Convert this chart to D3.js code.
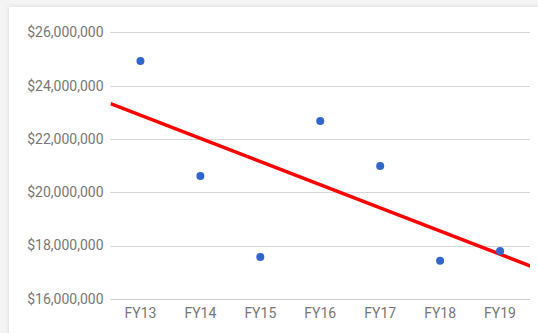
<!DOCTYPE html>
<html>
<head>
<meta charset="utf-8">
<script src="https://cdn.jsdelivr.net/npm/d3@7"></script>
<style>
  html, body { margin: 0; padding: 0; background: #f3f3f3; }
  svg { display: block; }
</style>
</head>
<body>
<svg id="chart" width="538" height="333"></svg>
<script>
// Annual totals by fiscal year
const years = ["FY13", "FY14", "FY15", "FY16", "FY17", "FY18", "FY19"];
const amounts = [24920000, 20610000, 17570000, 22670000, 20980000, 17430000, 17790000];
const yTicks = [16000000, 18000000, 20000000, 22000000, 24000000, 26000000];

const svg = d3.select("#chart");
const W = 538, H = 333;
const plot = { left: 110.5, right: 530, top: 32.3, bottom: 298.8 };

// card surface with a soft edge shadow
const defs = svg.append("defs");
const f = defs.append("filter").attr("id", "shadow").attr("x", "-5%").attr("y", "-5%").attr("width", "110%").attr("height", "110%");
f.append("feGaussianBlur").attr("in", "SourceAlpha").attr("stdDeviation", 2.5);
f.append("feOffset").attr("dx", 0).attr("dy", 0).attr("result", "b");
f.append("feComponentTransfer").append("feFuncA").attr("type", "linear").attr("slope", 0.12);
const m = f.append("feMerge");
m.append("feMergeNode");
m.append("feMergeNode").attr("in", "SourceGraphic");

svg.append("rect").attr("x", 0).attr("y", 0).attr("width", W).attr("height", H).attr("fill", "#f4f4f4");
svg.append("rect").attr("x", 9).attr("y", 7).attr("width", W + 20).attr("height", H + 20)
  .attr("fill", "#ffffff").attr("filter", "url(#shadow)");

const x = d3.scaleBand().domain(years).range([plot.left, plot.right]);
const y = d3.scaleLinear().domain([16000000, 26000000]).range([plot.bottom, plot.top]);

const fmt = d3.format("$,.0f");

// horizontal gridlines
svg.append("g").selectAll("line").data(yTicks).join("line")
  .attr("x1", plot.left).attr("x2", plot.right)
  .attr("y1", d => Math.round(y(d)) + 0.5).attr("y2", d => Math.round(y(d)) + 0.5)
  .attr("stroke", d => d === 16000000 ? "#cccccc" : "#d6d6d6").attr("stroke-width", 1);

// y-axis labels
const yAxis = d3.axisLeft(y).tickValues(yTicks).tickFormat(fmt).tickSize(0).tickPadding(7);
const gy = svg.append("g").attr("transform", `translate(${plot.left},0)`).call(yAxis);
gy.select(".domain").remove();
gy.selectAll("text").attr("fill", "#777777").style("font-family", "Roboto, sans-serif").style("font-size", "14px");

// x-axis labels
const xAxis = d3.axisBottom(x).tickSize(0).tickPadding(9);
const gx = svg.append("g").attr("transform", `translate(0,${plot.bottom})`).call(xAxis);
gx.select(".domain").remove();
gx.selectAll("text").attr("fill", "#777777").style("font-family", "Roboto, sans-serif").style("font-size", "14px");

// linear trendline fitted over the category index
const n = amounts.length;
const xi = d3.range(n);
const mx = d3.mean(xi), my = d3.mean(amounts);
const slope = d3.sum(xi, i => (i - mx) * (amounts[i] - my)) / d3.sum(xi, i => (i - mx) ** 2);
const icpt = my - slope * mx;
const idx = px => (px - x(years[0]) - x.bandwidth() / 2) / x.step();
defs.append("clipPath").attr("id", "plotclip").append("rect")
  .attr("x", plot.left).attr("y", 0).attr("width", plot.right - plot.left).attr("height", H);
const ends = [plot.left, plot.right + 10];
svg.append("line")
  .attr("clip-path", "url(#plotclip)")
  .attr("x1", ends[0]).attr("y1", y(icpt + slope * idx(ends[0])))
  .attr("x2", ends[1]).attr("y2", y(icpt + slope * idx(ends[1])))
  .attr("stroke", "#ff0000").attr("stroke-width", 3.5);

// data points
svg.append("g").selectAll("circle").data(years).join("circle")
  .attr("cx", (d) => x(d) + x.bandwidth() / 2)
  .attr("cy", (d, i) => y(amounts[i]))
  .attr("r", 4)
  .attr("fill", "#3366cc");
</script>
</body>
</html>
